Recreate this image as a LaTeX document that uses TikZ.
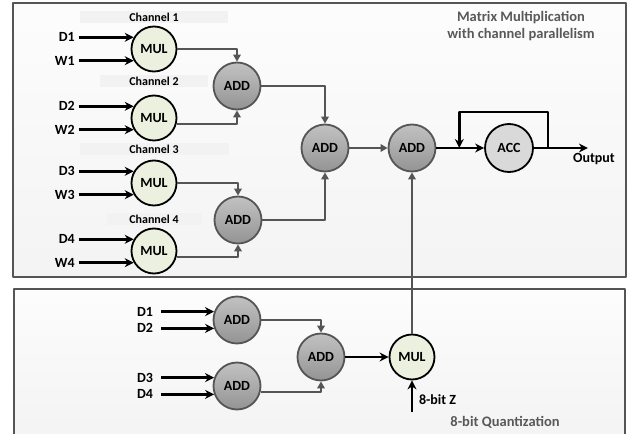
\documentclass[tikz,border=0pt]{standalone}
\usepackage{fontspec}
\setmainfont{Carlito}
\usetikzlibrary{arrows.meta,calc,positioning}
\definecolor{mulfill}{RGB}{235,241,222}
\definecolor{darkln}{RGB}{85,85,85}
\definecolor{accfill}{RGB}{217,217,217}
\definecolor{ttlgray}{RGB}{89,89,89}
\tikzset{
  mulnode/.style={circle,draw=black,line width=1.8pt,fill=mulfill,minimum size=45pt,inner sep=0pt,font=\fontsize{14}{16}\selectfont\bfseries},
  addnode/.style={circle,draw=darkln,line width=1.8pt,top color=black!24,bottom color=black!42,minimum size=47pt,inner sep=0pt,font=\fontsize{14}{16}\selectfont\bfseries},
  accnode/.style={circle,draw=black,line width=1.8pt,fill=accfill,minimum size=48pt,inner sep=0pt,font=\fontsize{14}{16}\selectfont\bfseries},
  lbl/.style={inner sep=1pt,font=\fontsize{14}{16}\selectfont\bfseries},
  chlbl/.style={fill=gray!10,minimum height=12pt,inner sep=0pt,font=\fontsize{12}{14}\selectfont\bfseries},
  inarr/.style={-{Stealth[length=9pt,width=9pt]},line width=2.8pt},
  garr/.style={-{Triangle[length=7pt,width=7.5pt]},darkln,line width=1.8pt},
  panel/.style={draw=darkln,line width=1.2pt,top color=gray!2,bottom color=gray!9}
}

\begin{document}
\begin{tikzpicture}[x=1pt,y=-1pt,>=Stealth,line join=round]
\useasboundingbox (0,0) rectangle (635,434);
% --- panels
\draw[panel] (13,3) rectangle (626,277);
\fill[top color=gray!2,bottom color=gray!9] (14,289) rectangle (625,434);
\draw[darkln,line width=1.2pt] (14,434) -- (14,289) -- (625,289) -- (625,434);
\node[align=center,text=ttlgray,font=\fontsize{14.5}{17}\selectfont\bfseries] (ttl) at (521,26) {Matrix Multiplication\\with channel parallelism};
\node[text=ttlgray,font=\fontsize{14.5}{16}\selectfont\bfseries] (qttl) at (505,422) {8-bit Quantization};

% --- channel multipliers
\node[mulnode] (mul1) at (154,49) {MUL};
\node[mulnode] (mul2) at (154,118) {MUL};
\node[mulnode] (mul3) at (154,183) {MUL};
\node[mulnode] (mul4) at (154,251) {MUL};
\node[chlbl,minimum width=148pt,above=2pt of mul1] (ch1) {Channel 1};
\node[chlbl,minimum width=108pt,above=7pt of mul2] (ch2) {Channel 2};
\node[chlbl,minimum width=149pt,above=4pt of mul3] (ch3) {Channel 3};
\node[chlbl,minimum width=95pt,above=2pt of mul4] (ch4) {Channel 4};

% --- inputs
\tikzset{lbl/.append style={outer xsep=3pt}}
\node[lbl,left=55pt of mul1.150] (d1) {D1}; \node[lbl,left=55pt of mul1.210] (w1) {W1};
\node[lbl,left=55pt of mul2.150] (d2) {D2}; \node[lbl,left=55pt of mul2.210] (w2) {W2};
\node[lbl,left=55pt of mul3.150] (d3) {D3}; \node[lbl,left=55pt of mul3.210] (w3) {W3};
\node[lbl,left=55pt of mul4.150] (d4) {D4}; \node[lbl,left=55pt of mul4.210] (w4) {W4};
\draw[inarr] (d1) -- (mul1.150); \draw[inarr] (w1) -- (mul1.210);
\draw[inarr] (d2) -- (mul2.150); \draw[inarr] (w2) -- (mul2.210);
\draw[inarr] (d3) -- (mul3.150); \draw[inarr] (w3) -- (mul3.210);
\draw[inarr] (d4) -- (mul4.150); \draw[inarr] (w4) -- (mul4.210);

% --- adder tree and accumulator
\node[addnode] (add1) at (237,86) {ADD};
\node[addnode] (add2) at (238,220) {ADD};
\node[addnode] (add3) at (325,148) {ADD};
\node[addnode] (add4) at (412,148) {ADD};
\node[accnode] (acc) at (509,148) {ACC};
\draw[garr] (mul1.east) -| (add1.north); \draw[garr] (mul2.-15) -| (add1.south);
\draw[garr] (mul3.east) -| (add2.north); \draw[garr] (mul4.-15) -| (add2.south);
\draw[garr] (add1.east) -| (add3.north); \draw[garr] (add2.east) -| (add3.south);
\draw[garr] (add3) -- (add4);
\draw[inarr] (add4) -- (acc);
\coordinate (fbout) at ($(acc.east)+(14,0)$);
\coordinate (fbin) at ($(add4.east)!0.48!(acc.west)$);
\draw[inarr] (fbout) -- ++(0,-36) -| (fbin);
\coordinate (outp) at ($(acc.east)+(54,0)$);
\draw[inarr] (acc) -- (outp);
\node[lbl,outer sep=0pt,anchor=north] (outlbl) at ($(outp)+(6,4)$) {Output};

% --- 8-bit quantization
\node[addnode] (add5) at (237,320) {ADD};
\node[addnode] (add6) at (237,386) {ADD};
\node[addnode] (add7) at (321,357) {ADD};
\node[mulnode] (mul5) at (412,357) {MUL};
\tikzset{lbl/.append style={outer xsep=7pt}}
\node[lbl,left=53pt of add5.160] (q1) {D1}; \node[lbl,left=53pt of add5.200] (q2) {D2};
\node[lbl,left=53pt of add6.160] (q3) {D3}; \node[lbl,left=53pt of add6.200] (q4) {D4};
\draw[inarr] (q1) -- (add5.160); \draw[inarr] (q2) -- (add5.200);
\draw[inarr] (q3) -- (add6.160); \draw[inarr] (q4) -- (add6.200);
\draw[garr] (add5.east) -| (add7.north); \draw[garr] (add6.-15) -| (add7.south);
\draw[inarr] (add7) -- (mul5);
\coordinate[below=32pt of mul5.south] (zin);
\draw[inarr] (zin) -- (mul5.south);
\node[lbl,outer sep=0pt,anchor=west] (zlbl) at ($(mul5.south)+(6,19)$) {8-bit Z};
\draw[garr] (mul5.north) -- (add4.south);
\end{tikzpicture}
\end{document}
